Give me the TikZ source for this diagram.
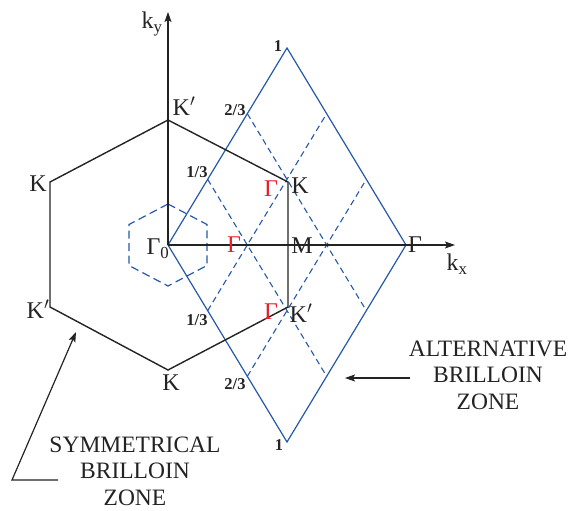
\documentclass[tikz,border=0pt]{standalone}
\usepackage{fontspec}
\setmainfont{Liberation Serif}
\usetikzlibrary{calc,arrows.meta}
\definecolor{zblue}{RGB}{38,88,168}
\definecolor{zred}{RGB}{232,30,40}
\definecolor{ink}{RGB}{35,35,35}
\begin{document}
\begin{tikzpicture}[x=1pt,y=-1pt,
  lbl/.style={font=\fontsize{24}{24}\selectfont, inner sep=0pt, text=ink},
  rlbl/.style={font=\fontsize{24}{24}\selectfont, inner sep=0pt, text=zred},
  fr/.style={font=\bfseries\fontsize{16.5}{16.5}\selectfont, inner sep=0pt, text=ink},
  zonetxt/.style={font=\fontsize{23.5}{26.5}\selectfont, align=center, inner sep=0pt, text=ink},
  hexedge/.style={line width=1.4pt, ink, line join=miter},
  bz/.style={line width=1.2pt, zblue, line join=miter},
  gridline/.style={line width=1.1pt, zblue, dash pattern=on 6pt off 4pt},
  smallhex/.style={line width=1.2pt, zblue, dash pattern=on 8pt off 4.5pt},
  ax/.style={line width=1.2pt, ink, -{Stealth[length=10pt,width=7pt,inset=2pt]}},
  ptr/.style={line width=1.2pt, ink, -{Stealth[length=10pt,width=7pt,inset=2pt]}},
]
\useasboundingbox (0,0) rectangle (571,511);

% key points
\coordinate (O) at (168,245);
\coordinate (A) at (287,48);
\coordinate (C) at (406,245);
\coordinate (B) at (287,442);
\coordinate (h1) at (168,120);
\coordinate (h2) at (288,182);
\coordinate (h3) at (288,307);
\coordinate (h4) at (168,370);
\coordinate (h5) at (50,307);
\coordinate (h6) at (50,182);
\coordinate (xend) at (455,245);
\coordinate (yend) at (168,12);

% small dashed hexagon
\draw[smallhex] (168,204) -- (207,224.5) -- (207,265.5) -- (168,286) -- (129,265.5) -- (129,224.5) -- cycle;

% dashed grid of the alternative zone
\draw[gridline] ($(O)!1/3!(A)$) -- ($(B)!1/3!(C)$);
\draw[gridline] ($(O)!2/3!(A)$) -- ($(B)!2/3!(C)$);
\draw[gridline] ($(O)!1/3!(B)$) -- ($(A)!1/3!(C)$);
\draw[gridline] ($(O)!2/3!(B)$) -- ($(A)!2/3!(C)$);

% alternative Brillouin zone
\draw[bz] (O) -- (A) -- (C) -- (B) -- cycle;

% symmetrical Brillouin zone
\draw[hexedge] (h1) -- (h2) -- (h3) -- (h4) -- (h5) -- (h6) -- cycle;

% axes
\draw[ax] (O) -- (xend);
\draw[ax] (O) -- (yend);

% labels
\node[lbl] (ky) at (152,24) {k\textsubscript{y}};
\node[lbl] (kx) at (457,264) {k\textsubscript{x}};
\node[lbl] (Kp1) at (184,106) {K$'$};
\node[lbl] (K1) at (38,184) {K};
\node[lbl] (K2) at (300,186) {K};
\node[lbl] (M) at (302,246) {M};
\node[lbl] (Kp2) at (301,313) {K$'$};
\node[lbl] (Kp3) at (38,309) {K$'$};
\node[lbl] (K3) at (171,383) {K};
\node[lbl] (G0) at (158,249) {Γ\textsubscript{0}};
\node[lbl] (G1) at (415,245) {Γ};
\node[rlbl] (Gr1) at (271,189) {Γ};
\node[rlbl] (Gr2) at (234,245) {Γ};
\node[rlbl] (Gr3) at (271,312) {Γ};

\node[fr] (f1) at (278,46) {1};
\node[fr] (f2) at (235,110) {2/3};
\node[fr] (f3) at (197,172) {1/3};
\node[fr] (f4) at (197,320) {1/3};
\node[fr] (f5) at (235,384) {2/3};
\node[fr] (f6) at (279,445) {1};

% zone captions
\node[zonetxt] (alt) at (488,375) {ALTERNATIVE\\BRILLOIN\\ZONE};
\node[zonetxt] (sym) at (135,471) {SYMMETRICAL\\BRILLOIN\\ZONE};

\coordinate (altstart) at (410,378);
\coordinate (alttip) at (345,378);
\draw[ptr] (altstart) -- (alttip);

\coordinate (symstart) at (58,480);
\coordinate (symbend) at (12,480);
\coordinate (symtip) at (76,332);
\draw[ptr] (symstart) -- (symbend) -- (symtip);
\end{tikzpicture}
\end{document}
